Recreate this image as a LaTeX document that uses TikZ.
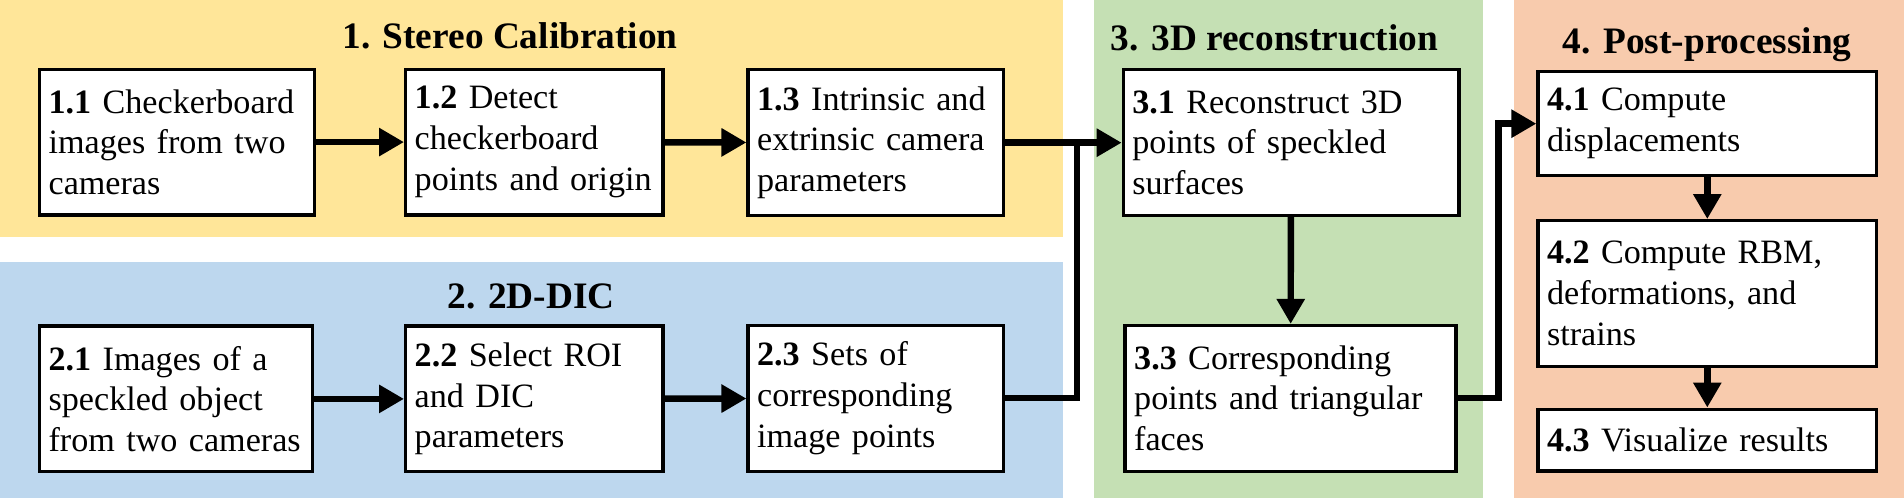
\documentclass[tikz,border=0pt]{standalone}
\usepackage{fontspec}
\setmainfont{Liberation Serif}
\usetikzlibrary{arrows.meta}
\definecolor{jaune}{HTML}{FFE699}
\definecolor{bleu}{HTML}{BDD7EE}
\definecolor{vert}{HTML}{C5E0B4}
\definecolor{saumon}{HTML}{F8CBAD}

\begin{document}
\begin{tikzpicture}[x=0.02cm, y=-0.02cm,
    boite/.style={draw, line width=1.5pt, fill=white, align=left, inner xsep=0.15cm, inner ysep=0pt, font=\fontsize{16}{19.1}\selectfont},
    titre/.style={anchor=base, font=\fontsize{17.5}{21}\selectfont\bfseries},
    fleche/.style={line width=3pt, -{Triangle[length=11.7pt, width=12.6pt]}},
    trait/.style={line width=3pt}]
                \useasboundingbox (0,0) rectangle (1568,410);

                % Les panneaux
                \fill[jaune] (0,0) rectangle (875.5,195);
                \fill[bleu] (0,215.5) rectangle (875.5,410);
                \fill[vert] (901,0) rectangle (1221.5,410);
                \fill[saumon] (1246.5,0) rectangle (1568,410);

                % Les titres
                \node[titre] (t1) at (420,40) {1. Stereo Calibration};
                \node[titre] (t2) at (437.5,254.2) {2. 2D-DIC};
                \node[titre] (t3) at (1049.5,41.2) {3. 3D reconstruction};
                \node[titre] (t4) at (1406,43.9) {4. Post-processing};

                % Les étapes
                \node[boite, text width=4.23cm, minimum height=2.4cm] (e11) at (145.75,117) {\textbf{1.1} Checkerboard\\images from two\\cameras};
                \node[boite, text width=3.94cm, minimum height=2.4cm] (e12) at (440,117) {\textbf{1.2} Detect\\checkerboard\\points and origin};
                \node[boite, text width=3.91cm, minimum height=2.4cm] (e13) at (721.25,117.5) {\textbf{1.3} Intrinsic and\\extrinsic camera\\parameters};
                \node[boite, text width=4.20cm, minimum height=2.4cm] (e21) at (145,328.5) {\textbf{2.1} Images of a\\speckled object\\from two cameras};
                \node[boite, text width=3.94cm, minimum height=2.4cm] (e22) at (440,328.5) {\textbf{2.2} Select ROI\\and DIC\\parameters};
                \node[boite, text width=3.91cm, minimum height=2.4cm] (e23) at (721.25,328) {\textbf{2.3} Sets of\\corresponding\\image points};
                \node[boite, text width=5.23cm, minimum height=2.4cm] (e31) at (1063.25,117.5) {\textbf{3.1} Reconstruct 3D\\points of speckled\\surfaces};
                \node[boite, text width=5.15cm, minimum height=2.4cm] (e33) at (1062.75,328) {\textbf{3.3} Corresponding\\points and triangular\\faces};
                \node[boite, text width=5.28cm, minimum height=1.72cm] (e41) at (1406,101.85) {\textbf{4.1} Compute\\displacements};
                \node[boite, text width=5.28cm, minimum height=2.4cm] (e42) at (1406,241.65) {\textbf{4.2} Compute RBM,\\deformations, and\\strains};
                \node[boite, text width=5.28cm, minimum height=1.02cm] (e43) at (1406,362.4) {\textbf{4.3} Visualize results};

                % Les flèches
                \coordinate (j1) at (887,117.5);
                \coordinate (j2) at (1234,328);
                \draw[fleche] (e11) -- (e12);
                \draw[fleche] (e12) -- (e13);
                \draw[fleche] (e13) -- (e31);
                \draw[fleche] (e21) -- (e22);
                \draw[fleche] (e22) -- (e23);
                \draw[trait] (e23.east) -| (j1);
                \draw[fleche] (e31) -- (e33);
                \draw[fleche] (e33.east) -- (j2) |- (e41.west);
                \draw[fleche] (e41) -- (e42);
                \draw[fleche] (e42) -- (e43);
            \end{tikzpicture}
\end{document}
